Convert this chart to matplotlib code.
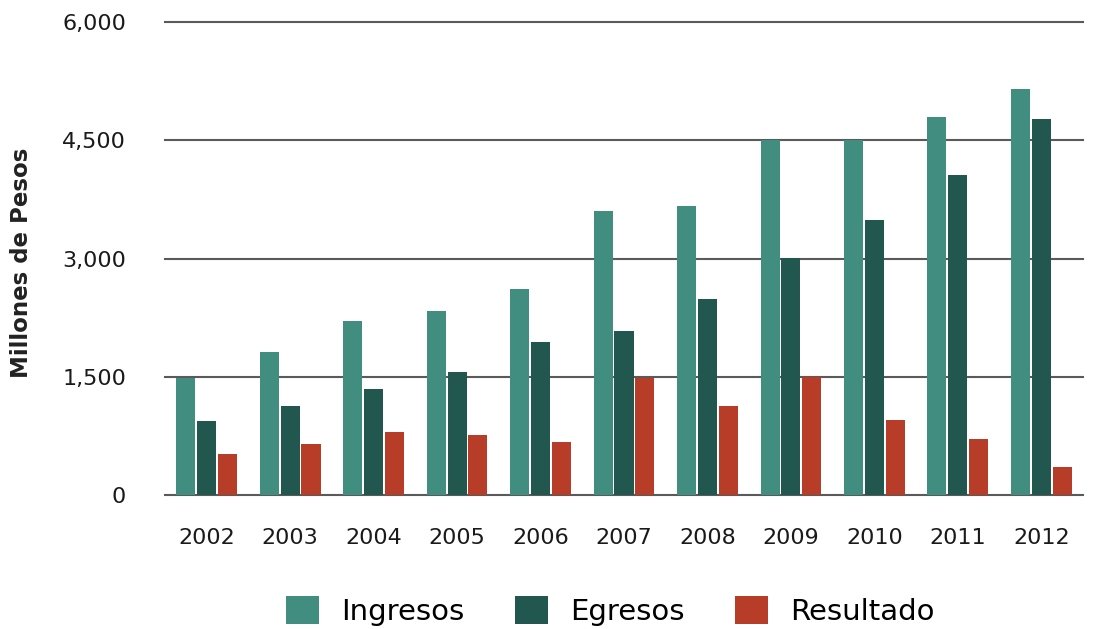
import numpy as np
import matplotlib
matplotlib.use("Agg")
import matplotlib.pyplot as plt
from matplotlib.patches import Patch

plt.rcParams['font.family'] = ['DejaVu Sans']

# Ingresos / egresos / resultado, millones de pesos
years = ["2002", "2003", "2004", "2005", "2006", "2007",
         "2008", "2009", "2010", "2011", "2012"]
ingresos = [1480, 1810, 2210, 2340, 2615, 3600, 3665, 4500, 4500, 4800, 5155]
egresos = [935, 1125, 1340, 1565, 1935, 2085, 2490, 3005, 3490, 4055, 4775]
resultado = [520, 645, 795, 760, 670, 1480, 1125, 1500, 950, 710, 355]
yticks = [0, 1500, 3000, 4500, 6000]

series = [
    ("Ingresos", ingresos, "#418e81"),
    ("Egresos", egresos, "#21574f"),
    ("Resultado", resultado, "#b73d28"),
]

fig = plt.figure(figsize=(11.1, 6.29), dpi=100)
ax = fig.add_axes([0.1486, 0.213, 0.8271, 0.752])

x = np.arange(len(years))
w = 0.228
step = 0.25
for i, (name, vals, col) in enumerate(series):
    ax.bar(x + (i - 1) * step, vals, width=w, color=col, label=name, zorder=3)

ax.set_xlim(-0.5, len(years) - 0.5)
ax.set_ylim(0, 6000)
ax.set_yticks(yticks)
ax.set_yticklabels([f"{v:,}" for v in yticks])
ax.set_xticks(x)
ax.set_xticklabels(years)

ax.set_axisbelow(True)
ax.yaxis.grid(True, color="#5a5a5a", linewidth=1.5)
for gl in ax.yaxis.get_gridlines():
    gl.set_clip_on(False)
for s in ax.spines.values():
    s.set_visible(False)
ax.tick_params(axis="both", length=0, labelsize=16, colors="#1a1a1a")
ax.tick_params(axis="y", pad=28)
ax.tick_params(axis="x", pad=24)
ax.set_ylabel("Millones de Pesos", fontsize=16.5, fontweight="bold",
              color="#222222")
ax.yaxis.set_label_coords(-0.144, 0.49)

handles = [Patch(facecolor=c, edgecolor="none") for _, _, c in series]
fig.legend(handles, [n for n, _, _ in series], loc="lower center",
           bbox_to_anchor=(0.55, -0.037), ncol=3, frameon=False,
           fontsize=21, handlelength=1.14, handleheight=1.07,
           columnspacing=1.72, handletextpad=0.76)

fig.savefig("out.png", dpi=100)
